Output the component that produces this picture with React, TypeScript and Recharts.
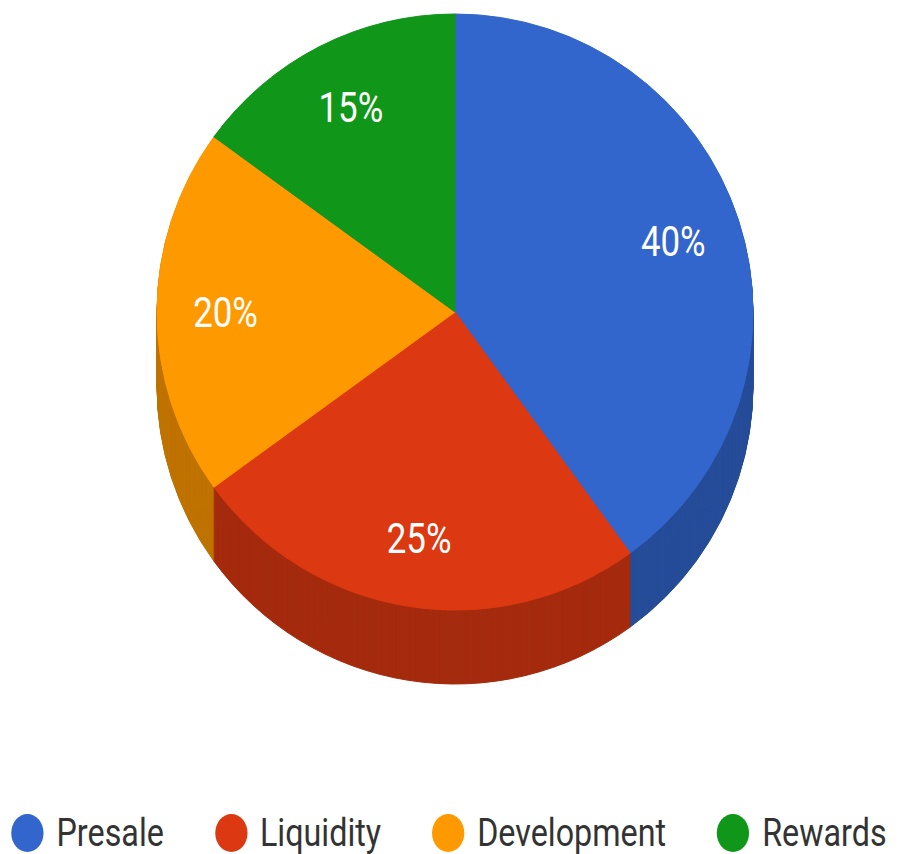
import React from 'react';
import { PieChart, Pie, Cell, Legend } from 'recharts';

const CATEGORIES = ['Presale', 'Liquidity', 'Development', 'Rewards'];
const SHARES = [40, 25, 20, 15];
const TOP_COLORS = ['#3366cc', '#dc3912', '#ff9900', '#109618'];
const SIDE_COLORS = ['#264d99', '#a52b0e', '#bf7300', '#0c7112'];

const CX = 455;
const CY = 312;
const RADIUS = 298;
const DEPTH = 74;
const SQUEEZE = 0.83; // text in the reference is stretched tall

const data = CATEGORIES.map((name, i) => ({ name, value: SHARES[i] }));

// offsets for the stacked side layers, drawn bottom first
const layerOffsets = Array.from({ length: DEPTH }, (_, i) => DEPTH - i);

const RAD = Math.PI / 180;

const renderLabel = (props: any) => {
  const { cx, cy, midAngle, outerRadius, value } = props;
  const r = outerRadius * 0.77;
  const x = cx + r * Math.cos(-midAngle * RAD);
  const y = cy + r * Math.sin(-midAngle * RAD);
  return (
    <text
      x={0}
      y={0}
      transform={`translate(${x},${y}) scale(${SQUEEZE},1)`}
      fill="#fff"
      textAnchor="middle"
      dominantBaseline="central"
      style={{ fontFamily: 'Roboto, sans-serif', fontSize: 42 }}
    >
      {`${value}%`}
    </text>
  );
};

const renderLegend = () => (
  <div style={{
    display: 'flex',
    justifyContent: 'center',
    alignItems: 'center',
    gap: 60,
    whiteSpace: 'nowrap',
    transform: `scaleX(${SQUEEZE + 0.02})`,
    transformOrigin: '50% 50%',
    fontFamily: 'Roboto, sans-serif',
    fontSize: 38,
    color: '#333',
    lineHeight: '44px',
  }}>
    {CATEGORIES.map((name, i) => (
      <span key={name} style={{ display: 'flex', alignItems: 'center', gap: 15 }}>
        <span style={{
          width: 38, height: 38, borderRadius: '50%',
          background: TOP_COLORS[i], display: 'inline-block',
        }} />
        <span>{name}</span>
      </span>
    ))}
  </div>
);

export default function App() {
  return (
    <div style={{ position: 'absolute', left: 0, top: 0, width: 898, height: 854, background: '#fff' }}>
      <PieChart width={898} height={854} margin={{ top: 0, right: 0, bottom: 0, left: 0 }}>
        {layerOffsets.map(d => (
          <Pie
            key={`side-${d}`}
            data={data}
            dataKey="value"
            nameKey="name"
            cx={CX}
            cy={CY + d}
            outerRadius={RADIUS}
            startAngle={90}
            endAngle={-270}
            legendType="none"
            isAnimationActive={false}
          >
            {data.map((_, i) => (
              <Cell key={i} fill={SIDE_COLORS[i]} stroke={SIDE_COLORS[i]} strokeWidth={1} />
            ))}
          </Pie>
        ))}
        <Pie
          data={data}
          dataKey="value"
          nameKey="name"
          cx={CX}
          cy={CY}
          outerRadius={RADIUS}
          startAngle={90}
          endAngle={-270}
          label={renderLabel}
          labelLine={false}
          isAnimationActive={false}
        >
          {data.map((_, i) => (
            <Cell key={i} fill={TOP_COLORS[i]} stroke={TOP_COLORS[i]} strokeWidth={1} />
          ))}
        </Pie>
        <Legend
          content={renderLegend}
          wrapperStyle={{ top: 811, left: 0, width: 898, height: 44 }}
        />
      </PieChart>
    </div>
  );
}
